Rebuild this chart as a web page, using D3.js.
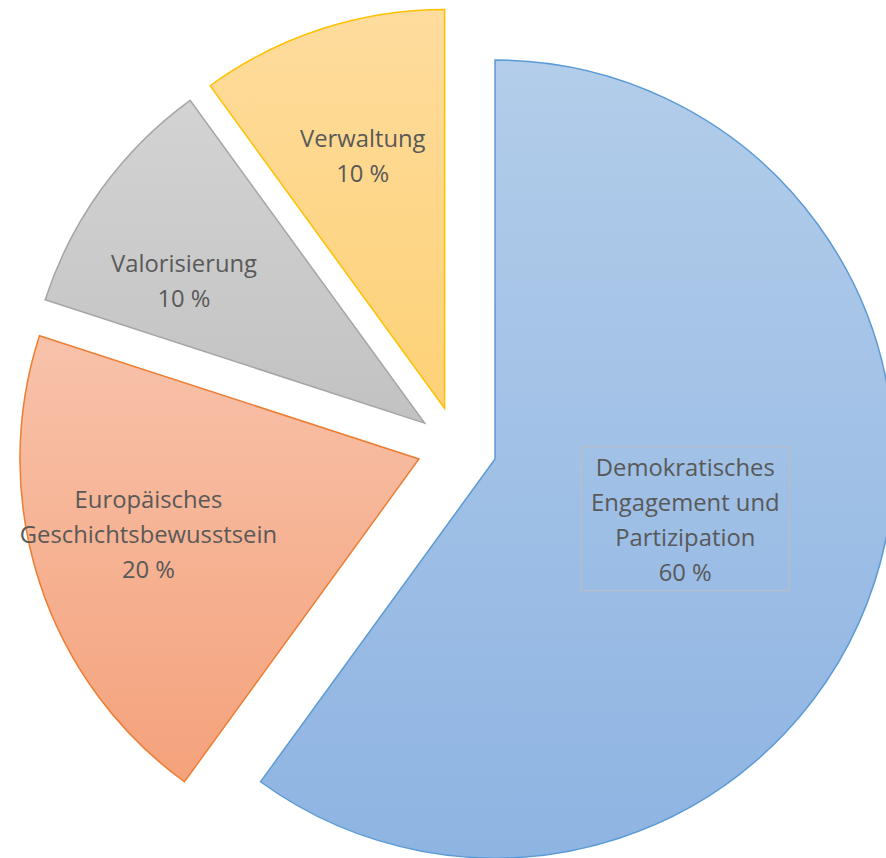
<!DOCTYPE html>
<html lang="de">
<head>
  <meta charset="UTF-8">
  <title>Budgetverteilung</title>
  <script src="https://d3js.org/d3.v7.min.js"></script>
  <style>
    body { margin: 0; background: #fff; }
    svg { display: block; }
    .lbl { font-family: "Open Sans", sans-serif; font-size: 23.8px; fill: #595959; }
  </style>
</head>
<body>
  <div id="chart"></div>

  <script>
    // data
    const categories = ["Demokratisches Engagement und Partizipation", "Europäisches Geschichtsbewusstsein", "Valorisierung", "Verwaltung"];
    const labelLines = [["Demokratisches", "Engagement und", "Partizipation"], ["Europäisches", "Geschichtsbewusstsein"], ["Valorisierung"], ["Verwaltung"]];
    const values = [60, 20, 10, 10];

    // look
    const fills = [["#b3cdea", "#8eb4e2"], ["#f8c2aa", "#f4a27b"], ["#d3d3d3", "#c2c2c2"], ["#fedc9d", "#fdd176"]];
    const strokes = ["#5b9bd5", "#ed7d31", "#a5a5a5", "#ffc000"];
    // label placement: angle shift from bisector (deg), distance from slice tip
    const labelShift = [0, 2.3, -5.6, 0];
    const labelDist = [200, 281, 279, 265];

    const width = 886, height = 858;
    const cx = 457, cy = 446.6, radius = 399, explode = 40, lineH = 35;

    const svg = d3.select("#chart").append("svg")
      .attr("width", width)
      .attr("height", height);

    const defs = svg.append("defs");
    fills.forEach((f, i) => {
      const g = defs.append("linearGradient")
        .attr("id", "grad" + i)
        .attr("x1", 0).attr("y1", 0).attr("x2", 0).attr("y2", 1);
      g.append("stop").attr("offset", "0%").attr("stop-color", f[0]);
      g.append("stop").attr("offset", "100%").attr("stop-color", f[1]);
    });

    const pie = d3.pie().sort(null).value(d => d);
    const arcs = pie(values);
    const arc = d3.arc().innerRadius(0).outerRadius(radius);

    const polar = (a, r) => [r * Math.sin(a), -r * Math.cos(a)];

    const slices = svg.selectAll(".slice")
      .data(arcs)
      .enter()
      .append("g")
      .attr("class", "slice")
      .attr("transform", d => {
        const [dx, dy] = polar((d.startAngle + d.endAngle) / 2, explode);
        return `translate(${cx + dx},${cy + dy})`;
      });

    slices.append("path")
      .attr("d", arc)
      .attr("fill", (d, i) => `url(#grad${i})`)
      .attr("stroke", (d, i) => strokes[i])
      .attr("stroke-width", 1.5)
      .attr("stroke-linejoin", "miter");

    slices.each(function (d, i) {
      const g = d3.select(this);
      const a = (d.startAngle + d.endAngle) / 2 + labelShift[i] * Math.PI / 180;
      const [lx, ly] = polar(a, labelDist[i]);
      const lines = labelLines[i].concat([d.value + " %"]);
      const t = g.append("text")
        .attr("class", "lbl")
        .attr("text-anchor", "middle");
      lines.forEach((s, k) => {
        t.append("tspan")
          .attr("x", lx)
          .attr("y", ly + (k - (lines.length - 1) / 2) * lineH + 8)
          .text(s);
      });
      if (i === 0) {
        // label box that the big slice carries
        g.insert("rect", "text")
          .attr("x", lx - 104)
          .attr("y", ly - 74)
          .attr("width", 208)
          .attr("height", 144)
          .attr("fill", "none")
          .attr("stroke", "#bfbfbf")
          .attr("stroke-width", 1);
      }
    });
  </script>
</body>
</html>
